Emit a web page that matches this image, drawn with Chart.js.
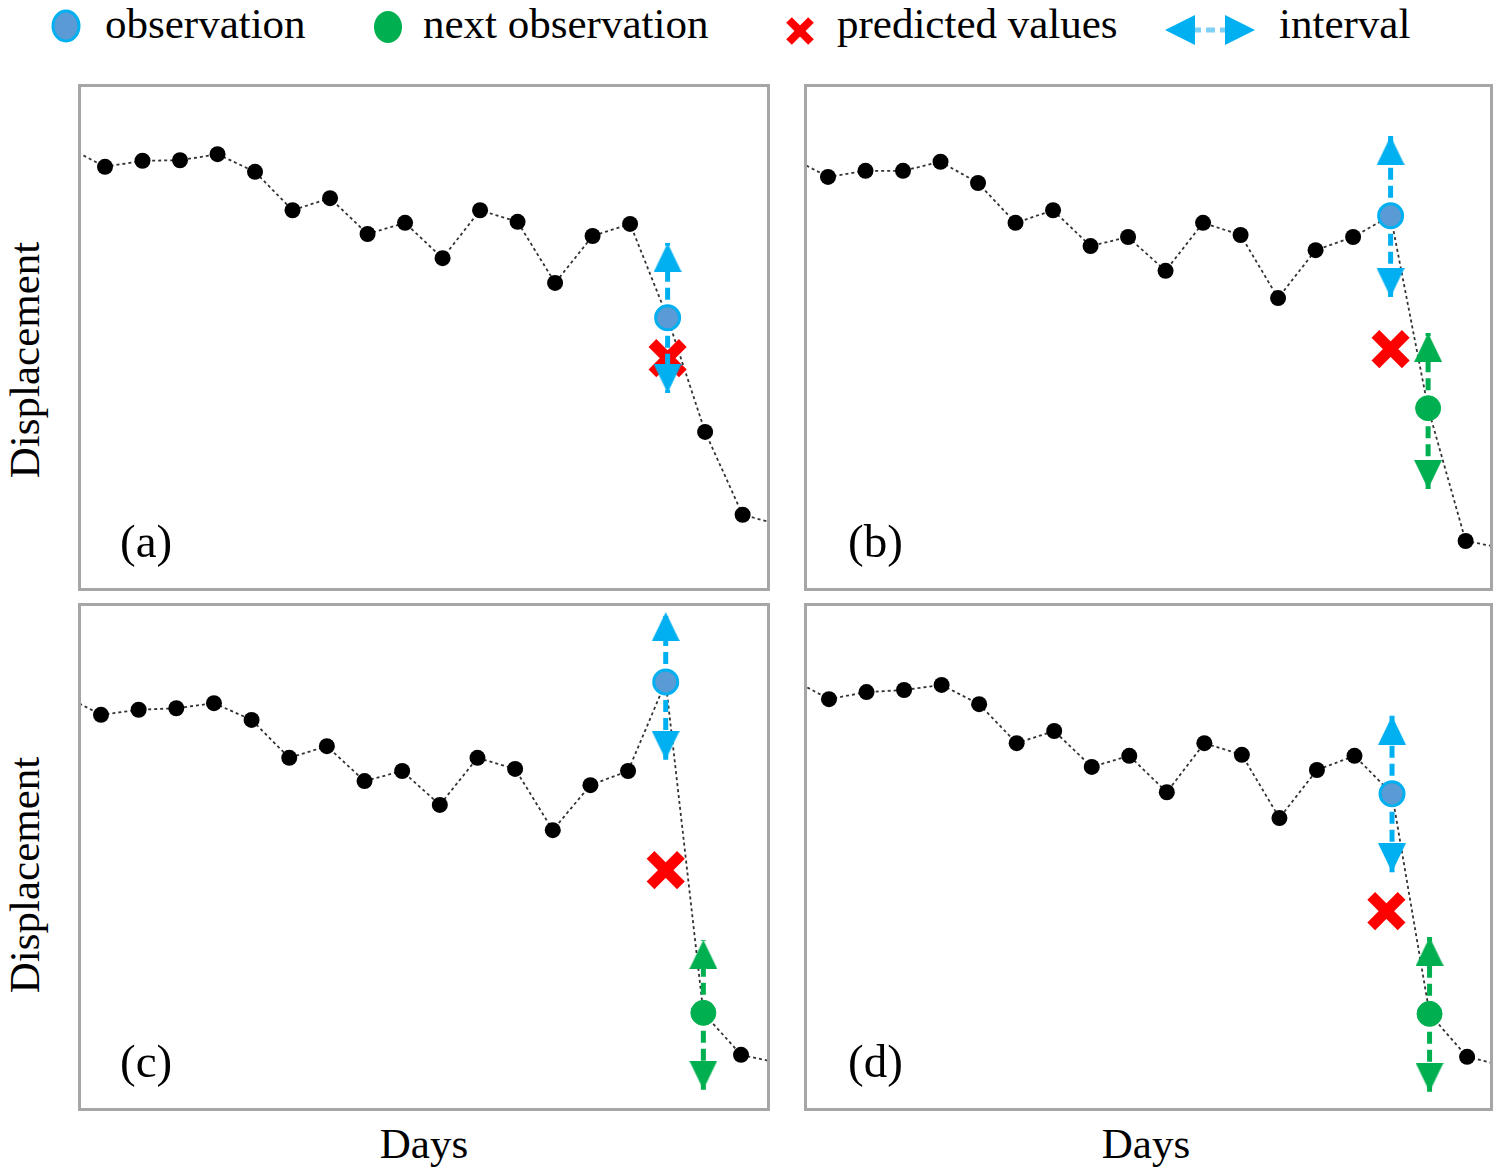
<!DOCTYPE html>
<html><head><meta charset="utf-8">
<script src="https://cdn.jsdelivr.net/npm/chart.js@4.4.0/dist/chart.umd.min.js"></script>
<style>
html,body{margin:0;padding:0;background:#fff;}
body{width:1500px;height:1174px;position:relative;overflow:hidden;font-family:"Liberation Serif","Times New Roman",serif;color:#000;}
.t{position:absolute;font-size:43px;line-height:43px;white-space:nowrap;}
.lab{position:absolute;font-size:47px;line-height:47px;white-space:nowrap;}
.rot{position:absolute;font-size:43px;line-height:43px;white-space:nowrap;transform:translate(-50%,-50%) rotate(-90deg);}
.days{position:absolute;font-size:43px;line-height:43px;white-space:nowrap;transform:translateX(-50%);}
canvas{position:absolute;}
</style></head>
<body>
<svg style="position:absolute;left:0;top:0" width="1500" height="60">
  <ellipse cx="66" cy="26" rx="13" ry="15" fill="#5B9BD5" stroke="#00B0F0" stroke-width="3"/>
  <ellipse cx="388" cy="27" rx="14" ry="16" fill="#00B050"/>
  <g stroke="#FF0000" stroke-width="8"><line x1="789" y1="20" x2="811" y2="42"/><line x1="811" y1="20" x2="789" y2="42"/></g>
  <line x1="1192" y1="30" x2="1228" y2="30" stroke="#7FD0F5" stroke-width="5" stroke-dasharray="9,5"/>
  <polygon points="1165,30 1195,15 1195,45" fill="#00B0F0"/>
  <polygon points="1255,30 1225,15 1225,45" fill="#00B0F0"/>
</svg>
<div class="t" id="l0" style="left:105px;top:2px"></div>
<div class="t" id="l1" style="left:423px;top:2px"></div>
<div class="t" id="l2" style="left:837px;top:2px"></div>
<div class="t" id="l3" style="left:1279px;top:2px"></div>

<canvas id="ca" width="692" height="507" style="left:78px;top:84px"></canvas>
<canvas id="cb" width="689" height="507" style="left:804px;top:84px"></canvas>
<canvas id="cc" width="692" height="508" style="left:78px;top:603px"></canvas>
<canvas id="cd" width="689" height="508" style="left:804px;top:603px"></canvas>

<div class="lab" id="pa" style="left:120px;top:518px"></div>
<div class="lab" id="pb" style="left:848px;top:518px"></div>
<div class="lab" id="pc" style="left:120px;top:1038px"></div>
<div class="lab" id="pd" style="left:848px;top:1038px"></div>

<div class="rot" id="y0" style="left:23.5px;top:360px"></div>
<div class="rot" id="y1" style="left:23.5px;top:875px"></div>
<div class="days" id="x0" style="left:424px;top:1122px"></div>
<div class="days" id="x1" style="left:1146px;top:1122px"></div>

<script>
// ---------------- data ----------------
const days   = [0,1,2,3,4,5,6,7,8,9,10,11,12,13,14,15,16,17,18,19];
const dispA  = [87.7,83.8,85.0,85.1,86.3,82.8,75.2,77.6,70.5,72.7,65.7,75.2,72.9,60.8,70.1,72.5,53.9,31.3,14.9,12.9];
const dispB  = [85.7,81.8,83.0,83.0,84.8,80.6,72.7,75.2,68.1,69.9,63.2,72.7,70.3,57.8,67.3,69.9,74.1,36.0,9.7,8.3];
const dispC  = [82.0,78.1,79.1,79.4,80.4,77.1,69.6,71.9,65.0,67.0,60.3,69.6,67.4,55.3,64.2,67.0,84.6,19.2,10.9,9.3];
const dispD  = [85.2,81.2,82.6,83.0,84.0,80.2,72.5,74.9,67.8,70.0,62.8,72.5,70.2,57.7,67.2,70.0,62.5,19.0,10.5,8.7];
const observationDay = 16;
const nextDay        = 17;
const hasNext        = [false, true, true, true];
const predictedDay   = [16, 16, 16, 15.85];
const predictedValue = [45.9, 47.7, 47.4, 39.3];
const obsUpper  = [68.7, 89.9, 98.4, 77.9];
const obsLower  = [39.0, 58.0, 69.2, 47.0];
const nextUpper = [null, 50.9, 33.6, 34.2];
const nextLower = [null, 20.0, 4.0, 3.6];
const panelLabels  = ['(a)','(b)','(c)','(d)'];
const legendLabels = ['observation','next observation','predicted values','interval'];
const yAxisTitle = 'Displacement';
const xAxisTitle = 'Days';

// ---------------- text ----------------
legendLabels.forEach((s,i)=>document.getElementById('l'+i).textContent=s);
['pa','pb','pc','pd'].forEach((id,i)=>document.getElementById(id).textContent=panelLabels[i]);
document.getElementById('y0').textContent=yAxisTitle;
document.getElementById('y1').textContent=yAxisTitle;
document.getElementById('x0').textContent=xAxisTitle;
document.getElementById('x1').textContent=xAxisTitle;

// ---------------- styles ----------------
const BLUE='#00B0F0', BLUE_FILL='#5B9BD5', GREEN='#00B050', RED='#FF0000';
function arrowImg(color){
  const w=28,h=29;
  const c=document.createElement('canvas'); c.width=w; c.height=2*h;
  const g=c.getContext('2d'); g.fillStyle=color;
  g.beginPath(); g.moveTo(w/2,h); g.lineTo(w,2*h); g.lineTo(0,2*h); g.closePath(); g.fill();
  return c;
}
const arrowBlue=arrowImg(BLUE), arrowGreen=arrowImg(GREEN);

const boxPlugin={id:'box',afterDraw(chart){
  const a=chart.chartArea,c=chart.ctx;
  c.save(); c.strokeStyle='#A6A6A6'; c.lineWidth=3;
  c.strokeRect(a.left+1.5,a.top+1.5,a.right-a.left-3,a.bottom-a.top-3); c.restore();
}};

function stem(day, from, to, color, img, rot){
  return {data:[{x:day,y:from},{x:day,y:to}], showLine:true, borderColor:color, borderWidth:5,
    borderDash:[12,6], pointStyle:img, pointRotation:rot, pointRadius:[0,1], pointHoverRadius:0,
    pointBorderWidth:0, order:5};
}

const panels=[
  {id:'ca', disp:dispA, xmin:0.28,  xmax:18.73},
  {id:'cb', disp:dispB, xmin:0.36,  xmax:18.73},
  {id:'cc', disp:dispC, xmin:0.389, xmax:18.77},
  {id:'cd', disp:dispD, xmin:0.334, xmax:18.69}
];

panels.forEach((p,k)=>{
  const disp=p.disp;
  const obs=disp[days.indexOf(observationDay)];
  const ds=[];
  ds.push({data:days.map((d,i)=>({x:d,y:disp[i]})), showLine:true, borderColor:'#333', borderWidth:1.8,
    borderDash:[3,3], pointBackgroundColor:'#000', pointBorderWidth:0,
    pointRadius:ctx=>{const d=days[ctx.dataIndex]; return (d===observationDay||(hasNext[k]&&d===nextDay))?0:8;},
    pointHoverRadius:0, order:10});
  ds.push({data:[{x:predictedDay[k],y:predictedValue[k]}], pointStyle:'crossRot', pointRadius:21.5,
    pointBorderWidth:11, pointBorderColor:RED, pointBackgroundColor:RED, pointHoverRadius:0, order:8});
  ds.push(stem(observationDay, obs, obsUpper[k], BLUE, arrowBlue, 0));
  ds.push(stem(observationDay, obs, obsLower[k], BLUE, arrowBlue, 180));
  ds.push({data:[{x:observationDay,y:obs}], pointRadius:12, pointBackgroundColor:BLUE_FILL,
    pointBorderColor:BLUE, pointBorderWidth:3, pointHoverRadius:0, order:2});
  if(hasNext[k]){
    const nx=disp[days.indexOf(nextDay)];
    ds.push(stem(nextDay, nx, nextUpper[k], GREEN, arrowGreen, 0));
    ds.push(stem(nextDay, nx, nextLower[k], GREEN, arrowGreen, 180));
    ds.push({data:[{x:nextDay,y:nx}], pointRadius:12.5, pointBackgroundColor:GREEN,
      pointBorderColor:GREEN, pointBorderWidth:1, pointHoverRadius:0, order:2});
  }
  new Chart(document.getElementById(p.id),{
    type:'scatter',
    data:{datasets:ds},
    options:{responsive:false, animation:false, events:[],
      layout:{padding:0, autoPadding:false},
      plugins:{legend:{display:false},tooltip:{enabled:false}},
      scales:{x:{type:'linear',min:p.xmin,max:p.xmax,display:false},
              y:{type:'linear',min:-0.2,max:100.2,display:false}}},
    plugins:[boxPlugin]
  });
});
</script>
</body></html>
